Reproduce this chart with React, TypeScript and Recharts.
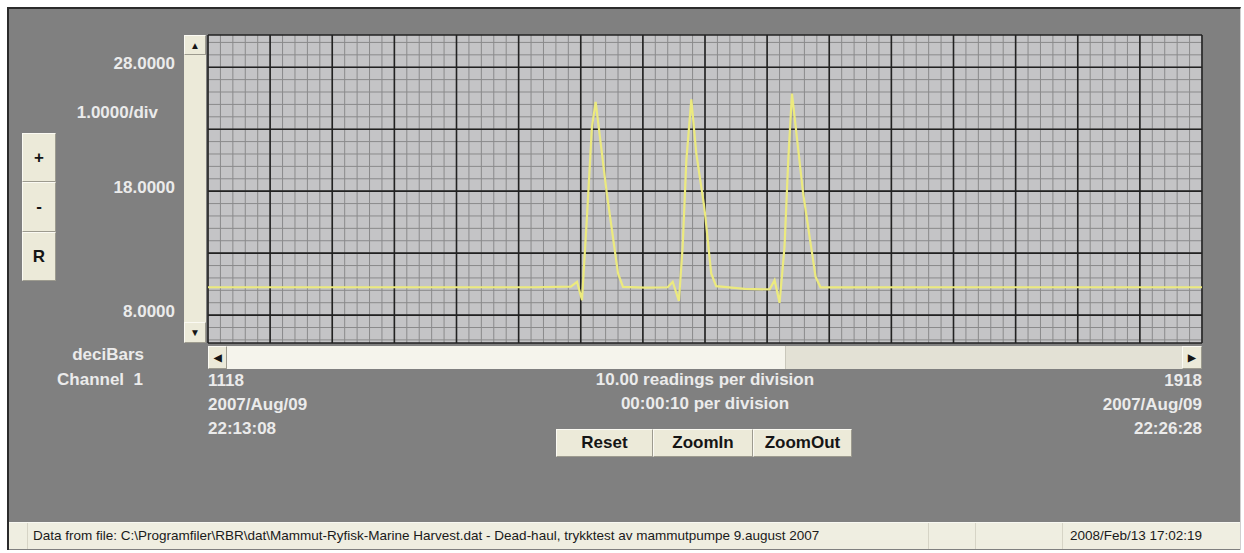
import { LineChart, Line, XAxis, YAxis, CartesianGrid } from "recharts";

// pressure trace (reading index -> deciBars)
const READINGS = [
  1118, 1200, 1300, 1380, 1410, 1415, 1419, 1423, 1427, 1430, 1439, 1448, 1452,
  1470, 1488, 1492, 1497, 1500, 1503, 1507, 1511, 1517, 1518, 1523, 1527,
  1550, 1570, 1574, 1578, 1582, 1585, 1588, 1597, 1607, 1611, 1700, 1800, 1918,
];
const DECIBARS = [
  10.25, 10.25, 10.25, 10.25, 10.3, 10.69, 9.21, 15.93, 23.19, 25.2, 17.81, 11.36, 10.28,
  10.22, 10.25, 10.69, 9.15, 13.5, 20.5, 25.4, 21.04, 17.0, 16.2, 11.36, 10.34,
  10.12, 10.07, 10.82, 8.99, 13.5, 20.5, 25.88, 17.81, 11.09, 10.23, 10.25, 10.25, 10.25,
];

const Y_TICKS = [8, 18, 28];
const Y_TICK_LABELS = ["8.0000", "18.0000", "28.0000"];
const X_TICKS = [1118, 1918];
const X_DATES = ["2007/Aug/09", "2007/Aug/09"];
const X_TIMES = ["22:13:08", "22:26:28"];

const Y_DOMAIN: [number, number] = [5.75, 30.6];
const X_DOMAIN: [number, number] = [1118, 1918];

// grid: 1 unit / 10 readings per small division, 5 small per big one
const MINOR_Y = Array.from({ length: 25 }, (_, i) => 6 + i);
const MINOR_X = Array.from({ length: 81 }, (_, i) => 1118 + i * 10);
const MAJOR_Y = [5.75, 8, 13, 18, 23, 28, 30.6];
const MAJOR_X = Array.from({ length: 17 }, (_, i) => 1118 + i * 50);

const data = READINGS.map((r, i) => ({ reading: r, value: DECIBARS[i] }));

const LABEL = "#ebebeb";
const FACE = "#ecead9";
const BOLD = "bold 17px 'Liberation Sans', Arial, sans-serif";

function YTick({ x, y, payload }: any) {
  const i = Y_TICKS.indexOf(payload.value);
  return (
    <text x={x - 33} y={y + 2} textAnchor="end" fill={LABEL} style={{ font: BOLD }}>
      {Y_TICK_LABELS[i]}
    </text>
  );
}

function XTick({ x, y, payload }: any) {
  const i = X_TICKS.indexOf(payload.value);
  const anchor = i === 0 ? "start" : "end";
  return (
    <text x={x} y={y} textAnchor={anchor} fill={LABEL} style={{ font: BOLD }}>
      <tspan x={x} dy={43}>{payload.value}</tspan>
      <tspan x={x} dy={24}>{X_DATES[i]}</tspan>
      <tspan x={x} dy={24}>{X_TIMES[i]}</tspan>
    </text>
  );
}

const abs = (l: number, t: number, w: number, h: number): React.CSSProperties => ({
  position: "absolute",
  left: l,
  top: t,
  width: w,
  height: h,
  boxSizing: "border-box",
});

function Btn({ l, t, w, h, children, size = 17 }: any) {
  return (
    <div
      style={{
        ...abs(l, t, w, h),
        background: FACE,
        borderTop: "1px solid #fbfaf3",
        borderLeft: "1px solid #fbfaf3",
        borderRight: "1px solid #9d9b8f",
        borderBottom: "1px solid #9d9b8f",
        display: "flex",
        alignItems: "center",
        justifyContent: "center",
        font: `bold ${size}px 'Liberation Sans', Arial, sans-serif`,
        color: "#151515",
      }}
    >
      {children}
    </div>
  );
}

function Txt({ l, t, w, align, children }: any) {
  return (
    <div
      style={{
        ...abs(l, t, w, 24),
        textAlign: align,
        font: BOLD,
        lineHeight: "24px",
        color: LABEL,
        whiteSpace: "pre",
      }}
    >
      {children}
    </div>
  );
}

export default function App() {
  return (
    <div style={{ position: "relative", width: 1244, height: 553, background: "#fff", overflow: "hidden" }}>
      <style>{"body{margin:0}"}</style>
      {/* window frame */}
      <div
        style={{
          ...abs(7, 7, 1234, 543),
          background: "#808080",
          borderTop: "2px solid #2b2b2b",
          borderLeft: "2px solid #2b2b2b",
          borderRight: "1px solid #cfcfcf",
        }}
      />
      <div style={{ position: "absolute", left: 0, top: 0 }}>
        <LineChart width={1244} height={553} data={data} margin={{ top: 35, right: 42, bottom: 0, left: 0 }}>
          <CartesianGrid
            horizontalValues={MINOR_Y}
            verticalValues={MINOR_X}
            stroke="#8a8a8b"
            strokeWidth={1}
            fill="#c4c4c6"
            fillOpacity={1}
          />
          <CartesianGrid horizontalValues={MAJOR_Y} verticalValues={MAJOR_X} stroke="#222222" strokeWidth={1.6} />
          <XAxis
            type="number"
            dataKey="reading"
            domain={X_DOMAIN}
            ticks={X_TICKS}
            interval={0}
            height={210}
            tickSize={0}
            tickMargin={0}
            axisLine={false}
            tickLine={false}
            tick={<XTick />}
            allowDataOverflow
          />
          <YAxis
            type="number"
            domain={Y_DOMAIN}
            ticks={Y_TICKS}
            interval={0}
            width={208}
            tickSize={0}
            tickMargin={0}
            axisLine={false}
            tickLine={false}
            tick={<YTick />}
            allowDataOverflow
          />
          <Line
            type="linear"
            dataKey="value"
            stroke="#ecea7e"
            strokeWidth={2.2}
            dot={false}
            isAnimationActive={false}
          />
        </LineChart>
      </div>

      {/* vertical scrollbar */}
      <div style={{ ...abs(184, 35, 22, 308), background: FACE }} />
      <Btn l={184} t={35} w={22} h={20} size={10}>▲</Btn>
      <Btn l={184} t={322} w={22} h={21} size={10}>▼</Btn>

      {/* horizontal scrollbar */}
      <div style={{ ...abs(208, 346, 994, 23), background: "#e3e1d5" }} />
      <div style={{ ...abs(227, 346, 559, 23), background: "#f5f4ec", borderRight: "1px solid #c9c7bb" }} />
      <Btn l={208} t={346} w={19} h={23} size={10}>◀</Btn>
      <Btn l={1182} t={346} w={20} h={23} size={10}>▶</Btn>

      {/* left buttons */}
      <Btn l={22} t={133} w={34} h={49}>+</Btn>
      <Btn l={22} t={182} w={34} h={50}>-</Btn>
      <Btn l={22} t={232} w={34} h={49}>R</Btn>

      {/* side labels */}
      <Txt l={0} t={101} w={158} align="right">1.0000/div</Txt>
      <Txt l={0} t={343} w={144} align="right">deciBars</Txt>
      <Txt l={0} t={368} w={143} align="right">{"Channel  1"}</Txt>

      {/* centre labels */}
      <Txt l={505} t={368} w={400} align="center">10.00 readings per division</Txt>
      <Txt l={505} t={392} w={400} align="center">00:00:10 per division</Txt>

      <Btn l={556} t={429} w={97} h={28}>Reset</Btn>
      <Btn l={653} t={429} w={100} h={28}>ZoomIn</Btn>
      <Btn l={753} t={429} w={99} h={28}>ZoomOut</Btn>

      {/* status bar */}
      <div
        style={{
          ...abs(9, 522, 1231, 27),
          background: "#efeee1",
          borderTop: "1px solid #f8f8f2",
          font: "13.5px 'Liberation Sans', Arial, sans-serif",
          color: "#1a1a1a",
        }}
      >
        <div style={{ ...abs(18, 0, 902, 26), borderLeft: "1px solid #d6d4c6", borderRight: "1px solid #d6d4c6", paddingLeft: 5, lineHeight: "26px", whiteSpace: "pre" }}>
          {"Data from file: C:\\Programfiler\\RBR\\dat\\Mammut-Ryfisk-Marine Harvest.dat - Dead-haul, trykktest av mammutpumpe 9.august 2007"}
        </div>
        <div style={{ ...abs(966, 0, 88, 26), borderLeft: "1px solid #d6d4c6", borderRight: "1px solid #d6d4c6" }} />
        <div style={{ ...abs(1054, 0, 177, 26), paddingLeft: 7, lineHeight: "26px", whiteSpace: "pre" }}>
          2008/Feb/13 17:02:19
        </div>
      </div>
    </div>
  );
}
